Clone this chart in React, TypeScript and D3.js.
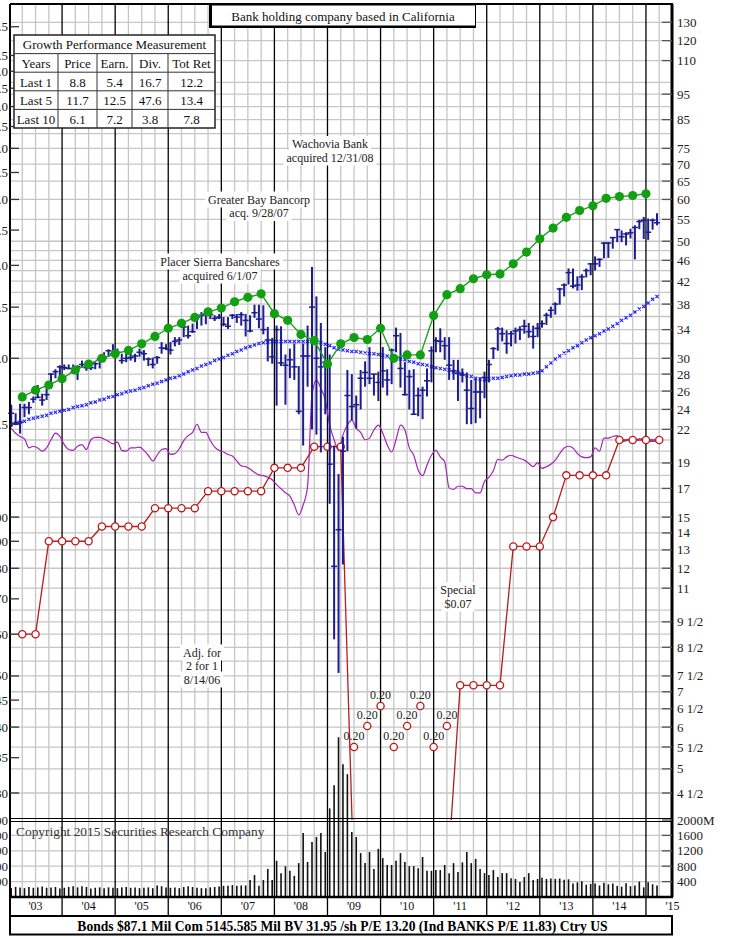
import React from 'react';
import * as d3 from 'd3';

// ---- data ----
const yearLabels = ["'03", "'04", "'05", "'06", "'07", "'08", "'09", "'10", "'11", "'12", "'13", "'14", "'15"];

const priceTicks = [130, 120, 110, 95, 85, 75, 70, 65, 60, 55, 50, 46, 42, 38, 34, 30, 28, 26, 24, 22, 19, 17, 15, 14, 13, 12, 11, 9.5, 8.5, 7.5, 7, 6.5, 6, 5.5, 5, 4.5];
const priceTickLabels = ['130', '120', '110', '95', '85', '75', '70', '65', '60', '55', '50', '46', '42', '38', '34', '30', '28', '26', '24', '22', '19', '17', '15', '14', '13', '12', '11', '9 1/2', '8 1/2', '7 1/2', '7', '6 1/2', '6', '5 1/2', '5', '4 1/2'];
const gridValues = [4.5, 5, 5.5, 6, 6.5, 7, 7.5, 8, 8.5, 9, 9.5, 10, 11, 12, 13, 14, 15, 16, 17, 18, 19, 20, 21, 22, 24, 26, 28, 30, 32, 34, 36, 38, 40, 42, 44, 46, 48, 50, 55, 60, 65, 70, 75, 80, 85, 90, 95, 100, 110, 120, 130];
const epsTicks = [8.5, 7.5, 7.0, 6.5, 6.0, 5.5, 5.0, 4.5, 4.0, 3.5, 3.0, 2.5, 2.0, 1.5, 1.0, 0.9, 0.8, 0.7, 0.6, 0.5, 0.45, 0.4, 0.35, 0.3];
const epsTickLabels = ['8.5', '7.5', '7.0', '6.5', '6.0', '5.5', '5.0', '4.5', '4.0', '3.5', '3.0', '2.5', '2.0', '1.5', '1.00', '0.90', '0.80', '0.70', '0.60', '0.50', '0.45', '0.40', '0.35', '0.30'];
const volTicks = [2000, 1600, 1200, 800, 400];

// monthly bars Jan 2003 .. Mar 2015
const priceHigh = [
  24.5, 23.6, 24.6, 24.6, 24.8, 25.4, 26.7, 25.7, 26.3, 28.1, 28.6, 29.1,
  29.2, 29.2, 29.2, 29.1, 29.7, 29.5, 29.3, 29.5, 30.1, 30.8, 31.2, 31.9,
  31.3, 30.6, 30.7, 31.1, 30.6, 31.3, 31.1, 30.1, 30.1, 30.3, 32.2, 31.9,
  32.2, 32.9, 32.9, 34.6, 34.6, 34.9, 36.4, 36.7, 36.7, 36.7, 36.2, 36.4,
  35.9, 35.9, 36.4, 36.4, 36.7, 36.4, 36.2, 37.9, 37.9, 37.8, 34.4, 32.8,
  34.6, 34.5, 30.5, 31.3, 32.0, 29.0, 32.0, 34.6, 44.7, 39.3, 35.0, 31.5,
  30.5, 20.5, 18.1, 21.3, 28.5, 28.0, 25.5, 28.5, 29.6, 31.5, 28.0, 28.3,
  31.5, 28.6, 31.3, 34.3, 33.5, 29.5, 28.5, 28.6, 26.4, 26.5, 28.7, 31.6,
  32.9, 34.2, 32.9, 32.9, 29.8, 29.8, 28.7, 28.2, 27.3, 27.5, 27.6, 28.3,
  29.8, 31.5, 34.4, 34.3, 33.9, 33.8, 34.3, 34.5, 35.5, 35.0, 34.6, 35.0,
  35.4, 36.6, 37.6, 38.3, 40.8, 41.6, 44.4, 44.4, 42.9, 43.3, 44.4, 45.4,
  46.8, 46.4, 49.8, 49.8, 50.9, 52.7, 52.4, 52.0, 52.8, 53.6, 54.9, 55.6,
  55.2, 55.2, 56.5,
];
const priceLow = [
  22.2, 22.4, 21.6, 23.2, 23.5, 24.7, 25.2, 24.4, 25.0, 26.9, 27.5, 27.7,
  28.5, 28.6, 28.1, 27.3, 28.8, 28.4, 28.5, 28.6, 28.7, 29.5, 30.2, 30.3,
  30.2, 29.3, 29.5, 29.7, 29.5, 30.2, 29.7, 29.0, 28.7, 29.3, 30.6, 31.1,
  30.5, 31.6, 31.8, 32.9, 32.7, 33.5, 34.1, 34.6, 34.8, 35.6, 35.3, 35.6,
  34.5, 34.1, 35.6, 35.0, 34.6, 33.0, 33.6, 35.8, 34.2, 33.3, 29.6, 29.3,
  24.4, 29.0, 24.5, 27.5, 27.3, 23.5, 20.5, 26.5, 22.0, 21.5, 19.9, 23.5,
  15.9, 8.8, 7.6, 12.2, 20.0, 22.9, 22.1, 24.0, 26.5, 26.8, 25.5, 24.9,
  26.4, 25.5, 26.8, 30.8, 26.4, 25.5, 24.0, 23.5, 23.3, 23.0, 25.4, 27.0,
  30.8, 30.8, 29.8, 27.3, 27.3, 24.9, 27.0, 22.5, 22.5, 22.6, 23.1, 25.2,
  27.0, 29.9, 31.0, 32.3, 30.6, 31.6, 32.0, 32.5, 33.4, 32.8, 31.3, 32.9,
  34.3, 34.7, 35.8, 36.3, 37.9, 39.3, 41.4, 40.7, 40.3, 40.4, 42.7, 43.1,
  44.0, 44.7, 46.4, 46.5, 48.4, 49.8, 49.8, 49.1, 50.6, 46.2, 52.7, 50.5,
  50.3, 52.6, 53.6,
];
const priceClose = [
  23.6, 22.6, 22.7, 24.2, 24.2, 25.1, 25.3, 25.0, 25.6, 28.0, 28.3, 28.9,
  28.8, 28.7, 28.2, 28.9, 29.2, 28.8, 28.8, 29.3, 29.9, 30.0, 31.0, 30.6,
  30.8, 29.7, 30.0, 30.1, 30.3, 30.8, 30.6, 29.9, 29.2, 30.1, 31.4, 31.3,
  31.1, 32.3, 32.5, 34.4, 33.1, 33.7, 35.9, 36.2, 36.4, 36.3, 35.7, 35.9,
  34.8, 34.5, 36.2, 35.9, 36.3, 35.4, 33.8, 36.6, 35.6, 34.0, 32.5, 30.2,
  34.0, 29.4, 29.1, 29.8, 28.9, 23.8, 30.3, 30.3, 37.5, 30.0, 28.9, 29.5,
  18.9, 12.1, 14.2, 20.0, 25.5, 24.3, 24.5, 27.5, 28.2, 27.5, 28.0, 27.0,
  28.4, 27.3, 31.1, 33.1, 28.7, 25.6, 27.7, 23.5, 25.5, 26.1, 27.2, 31.0,
  32.4, 32.3, 31.7, 29.1, 28.4, 28.1, 27.9, 26.1, 24.1, 25.9, 25.9, 27.6,
  29.2, 31.3, 34.1, 33.4, 32.0, 33.4, 33.8, 34.0, 34.5, 33.7, 33.0, 34.2,
  34.9, 36.2, 37.0, 38.0, 40.6, 41.3, 43.6, 41.1, 41.3, 42.8, 44.0, 45.3,
  45.3, 46.2, 49.6, 49.6, 50.8, 52.6, 51.0, 51.6, 51.9, 53.1, 54.5, 54.8,
  52.0, 54.8, 54.2,
];
const movingAvg = [
  22.5, 22.6, 22.7, 22.8, 23.0, 23.1, 23.2, 23.3, 23.4, 23.6, 23.7, 23.8,
  23.9, 24.0, 24.2, 24.3, 24.4, 24.5, 24.7, 24.8, 25.0, 25.1, 25.3, 25.4,
  25.6, 25.7, 25.9, 26.0, 26.1, 26.3, 26.4, 26.6, 26.8, 26.9, 27.1, 27.3,
  27.5, 27.6, 27.8, 28.0, 28.3, 28.5, 28.7, 29.0, 29.2, 29.4, 29.7, 29.9,
  30.1, 30.4, 30.6, 30.9, 31.1, 31.4, 31.6, 31.8, 32.0, 32.1, 32.2, 32.3,
  32.3, 32.3, 32.3, 32.3, 32.3, 32.3, 32.3, 32.3, 32.3, 32.2, 32.1, 31.9,
  31.7, 31.4, 31.2, 31.1, 31.0, 30.9, 30.9, 30.8, 30.7, 30.6, 30.6, 30.5,
  30.4, 30.3, 30.2, 30.0, 29.9, 29.8, 29.6, 29.5, 29.3, 29.2, 29.1, 28.9,
  28.8, 28.7, 28.6, 28.5, 28.3, 28.2, 28.0, 27.8, 27.7, 27.5, 27.4, 27.3,
  27.4, 27.5, 27.5, 27.6, 27.7, 27.8, 27.9, 27.9, 28.0, 28.0, 28.1, 28.2,
  28.4, 28.9, 29.4, 29.9, 30.3, 30.7, 31.0, 31.4, 31.7, 32.1, 32.5, 32.8,
  33.1, 33.4, 33.8, 34.1, 34.5, 34.9, 35.4, 35.8, 36.2, 36.7, 37.2, 37.6,
  38.2, 38.8, 39.3,
];
// relative strength (unitless, 0-100 over the price panel)
const relStrength = [
  48.0, 47.4, 47.0, 46.7, 45.6, 45.8, 45.6, 45.2, 45.6, 46.6, 47.4, 47.0,
  46.0, 45.4, 45.3, 45.8, 46.0, 45.4, 46.6, 46.9, 46.9, 46.7, 46.4, 46.1,
  46.3, 45.3, 45.2, 45.6, 45.6, 45.7, 45.3, 44.7, 44.0, 44.7, 45.4, 45.5,
  44.8, 44.9, 45.5, 46.5, 47.1, 47.5, 48.5, 47.5, 47.5, 46.5, 45.7, 45.3,
  45.1, 44.8, 44.6, 44.0, 43.4, 43.3, 43.0, 42.6, 42.3, 42.2, 42.0, 41.7,
  41.1, 40.6, 40.1, 39.7, 38.6, 37.4, 38.6, 40.9, 52.1, 53.9, 52.9, 51.5,
  48.4, 46.6, 45.3, 47.2, 48.4, 49.0, 48.0, 47.5, 46.6, 46.8, 47.8, 48.4,
  47.4, 46.0, 45.1, 46.6, 48.4, 47.8, 45.6, 44.7, 42.9, 42.2, 43.5, 44.7,
  45.3, 44.5, 43.9, 40.7, 40.5, 40.9, 40.9, 40.6, 40.6, 40.1, 40.1, 41.5,
  42.0, 42.8, 44.2, 44.1, 44.5, 44.7, 44.5, 44.3, 44.1, 43.7, 43.3, 43.8,
  43.1, 43.3, 43.6, 44.1, 44.9, 45.6, 45.8, 45.6, 44.9, 44.5, 44.4, 44.5,
  45.6, 45.2, 46.8, 46.8, 47.0, 47.1, 46.4, 46.5, 46.7, 46.6, 46.7, 46.7,
  46.5, 46.4, 46.4,
];
// monthly volume, millions of shares
const volume = [
  230, 260, 250, 230, 260, 240, 250, 270, 240, 250, 260, 220,
  240, 260, 280, 250, 280, 260, 220, 240, 250, 230, 250, 240,
  230, 250, 260, 240, 250, 230, 240, 250, 230, 300, 280, 250,
  240, 250, 230, 260, 280, 260, 240, 230, 230, 250, 260, 270,
  290, 290, 310, 290, 300, 300, 440, 570, 290, 440, 730, 440,
  940, 620, 800, 680, 550, 880, 1660, 910, 1430, 1560, 1660, 1170,
  2300, 2900, 4150, 3450, 3190, 1690, 1560, 1140, 880, 1170, 730, 1250,
  1010, 830, 830, 940, 1140, 910, 800, 800, 750, 1040, 680, 680,
  700, 700, 830, 620, 880, 650, 900, 1170, 880, 990, 730, 620,
  570, 700, 520, 620, 620, 490, 470, 390, 520, 620, 440, 470,
  500, 470, 480, 470, 480, 450, 460, 350, 380, 410, 320, 340,
  350, 300, 370, 330, 350, 290, 270, 360, 280, 300, 400, 250,
  380, 330, 300,
];
// quarterly, per share (plotted on the left scale, 15x price ratio)
const earnings = [
  1.69, 1.74, 1.78, 1.83, 1.90, 1.95, 2.00, 2.04, 2.07, 2.13, 2.20, 2.28,
  2.33, 2.39, 2.45, 2.49, 2.56, 2.61, 2.65, 2.43, 2.36, 2.22, 2.16, 1.95,
  2.13, 2.19, 2.17, 2.28, 2.00, 2.03, 2.03, 2.41, 2.64, 2.71, 2.83, 2.88,
  2.89, 3.02, 3.18, 3.37, 3.53, 3.70, 3.81, 3.89, 4.02, 4.05, 4.07, 4.10,
];
const dividends = [
  0.60, 0.60, 0.90, 0.90, 0.90, 0.90, 0.96, 0.96, 0.96, 0.96, 1.04, 1.04,
  1.04, 1.04, 1.12, 1.12, 1.12, 1.12, 1.12, 1.24, 1.24, 1.24, 1.36, 1.36,
  1.36, 0.20, 0.20, 0.20, 0.20, 0.20, 0.20, 0.20, 0.20, 0.48, 0.48, 0.48,
  0.48, 0.88, 0.88, 0.88, 1.00, 1.20, 1.20, 1.20, 1.20, 1.40, 1.40, 1.40,
  1.40,
];

const tableHead = ['Years', 'Price', 'Earn.', 'Div.', 'Tot Ret'];
const tableRows = [
  ['Last 1', '8.8', '5.4', '16.7', '12.2'],
  ['Last 5', '11.7', '12.5', '47.6', '13.4'],
  ['Last 10', '6.1', '7.2', '3.8', '7.8'],
];

const useD3 = (renderChartFn: Function, dependencyList: Array<unknown>) => {
  const ref = React.useRef(null);
  React.useEffect(() => {
    renderChartFn(d3.select(ref.current));
  }, dependencyList); // eslint-disable-line
  return ref;
};

const FONT = "'Liberation Serif', 'Times New Roman', serif";

function Chart() {
  const ref = useD3((svg: any) => {
    svg.selectAll('*').remove();
    const left = 10;
    const right = 672;
    const top = 4;
    const priceBottom = 820;
    const volBottom = 897;
    const epsRatio = 15;

    const x = d3.scaleLinear().domain([2003, 2015.5]).range([9, 672.5]);
    const y = d3.scaleLog().domain([4, 140.8]).range([priceBottom, top]);
    const yEps = d3.scaleLog().domain([4 / epsRatio, 140.8 / epsRatio]).range([priceBottom, top]);
    const yVol = d3.scaleLinear().domain([0, 2000]).range([volBottom, priceBottom]);
    const yRs = d3.scaleLinear().domain([0, 100]).range([priceBottom, top]);
    const mx = (k: number) => x(2003 + (k + 0.5) / 12);
    const qx = (j: number) => x(2003 + (j + 1) / 4);

    svg.append('rect').attr('width', 731).attr('height', 937).attr('fill', '#fff');

    const defs = svg.append('defs');
    defs.append('clipPath').attr('id', 'pricePanel')
      .append('rect').attr('x', left).attr('y', top).attr('width', right - left).attr('height', priceBottom - top);

    // grid
    const grid = svg.append('g').attr('stroke', '#c6c6c6').attr('stroke-width', 1.3);
    grid.selectAll('.hg').data(gridValues).join('line')
      .attr('x1', left).attr('x2', right)
      .attr('y1', (d: number) => y(d)).attr('y2', (d: number) => y(d));
    grid.selectAll('.vg').data([400, 800, 1200, 1600]).join('line')
      .attr('x1', left).attr('x2', right)
      .attr('y1', (d: number) => yVol(d)).attr('y2', (d: number) => yVol(d));
    const quarters = d3.range(2003.25, 2015.5, 0.25).filter((q: number) => q % 1 !== 0);
    grid.selectAll('.qg').data(quarters).join('line')
      .attr('x1', (d: number) => x(d)).attr('x2', (d: number) => x(d))
      .attr('y1', top).attr('y2', volBottom);
    svg.append('g').selectAll('line').data(d3.range(2004, 2016)).join('line')
      .attr('x1', (d: number) => x(d)).attr('x2', (d: number) => x(d))
      .attr('y1', top).attr('y2', 916)
      .attr('stroke', '#000').attr('stroke-width', 1.3);

    // volume
    svg.append('g').selectAll('line').data(volume).join('line')
      .attr('x1', (_: number, i: number) => mx(i)).attr('x2', (_: number, i: number) => mx(i))
      .attr('y1', volBottom).attr('y2', (d: number) => yVol(d))
      .attr('stroke', '#111').attr('stroke-width', 1.6);

    // relative strength
    svg.append('path').datum(relStrength)
      .attr('d', d3.line().x((_: number, i: number) => mx(i)).y((d: number) => yRs(d)).curve(d3.curveMonotoneX))
      .attr('fill', 'none').attr('stroke', '#a424b4').attr('stroke-width', 1.2);

    // moving average
    svg.append('g').selectAll('path').data(movingAvg).join('path')
      .attr('transform', (d: number, i: number) => `translate(${mx(i)},${y(d)})`)
      .attr('d', 'M-1.6,-1.6L1.6,1.6M-1.6,1.6L1.6,-1.6')
      .attr('stroke', '#1f1fff').attr('stroke-width', 1.1);

    // dividends
    const divMin = yEps.domain()[0];
    const dg = svg.append('g');
    dg.append('path').datum(dividends)
      .attr('clip-path', 'url(#pricePanel)')
      .attr('d', d3.line().x((_: number, j: number) => qx(j)).y((d: number) => yEps(d)))
      .attr('fill', 'none').attr('stroke', '#b81c1c').attr('stroke-width', 1.3);
    const onScale = dividends.map((d, j) => ({ d, j })).filter((p) => p.d >= divMin);
    dg.selectAll('.dc').data(onScale).join('circle')
      .attr('cx', (p: any) => qx(p.j)).attr('cy', (p: any) => yEps(p.d)).attr('r', 3.6)
      .attr('fill', '#fff').attr('stroke', '#c01818').attr('stroke-width', 1.3);
    const offLevels = [747, 726, 706];
    const offScale = dividends.map((d, j) => ({ d, j })).filter((p) => p.d < divMin);
    offScale.forEach((p, i) => {
      const cy = offLevels[i % 3];
      dg.append('circle').attr('cx', qx(p.j)).attr('cy', cy).attr('r', 3.6)
        .attr('fill', '#fff').attr('stroke', '#c01818').attr('stroke-width', 1.3);
      dg.append('text').attr('x', qx(p.j)).attr('y', cy - 11)
        .attr('text-anchor', 'middle').attr('dominant-baseline', 'central')
        .attr('font-family', FONT).attr('font-size', 12).attr('fill', '#222')
        .text(p.d.toFixed(2));
    });

    // price bars
    const bars = svg.append('g').attr('stroke', '#1c1c8e');
    bars.selectAll('.hl').data(priceHigh).join('line')
      .attr('x1', (_: number, i: number) => mx(i)).attr('x2', (_: number, i: number) => mx(i))
      .attr('y1', (d: number) => y(d)).attr('y2', (_: number, i: number) => y(priceLow[i]))
      .attr('stroke-width', 2);
    bars.selectAll('.cl').data(priceClose).join('line')
      .attr('x1', (_: number, i: number) => mx(i) - 3).attr('x2', (_: number, i: number) => mx(i) + 3)
      .attr('y1', (d: number) => y(d)).attr('y2', (d: number) => y(d))
      .attr('stroke-width', 1.5);

    // earnings
    const eg = svg.append('g');
    eg.append('path').datum(earnings)
      .attr('d', d3.line().x((_: number, j: number) => qx(j)).y((d: number) => yEps(d)))
      .attr('fill', 'none').attr('stroke', '#1ea01e').attr('stroke-width', 1.4);
    eg.selectAll('circle').data(earnings).join('circle')
      .attr('cx', (_: number, j: number) => qx(j)).attr('cy', (d: number) => yEps(d)).attr('r', 4.6)
      .attr('fill', '#12a012');

    // notes with white backgrounds
    const note = (lines: string[], cx: number, cy: number, lh: number) => {
      const g = svg.append('g');
      lines.forEach((t, i) => {
        const txt = g.append('text').attr('x', cx).attr('y', cy + i * lh)
          .attr('text-anchor', 'middle').attr('dominant-baseline', 'central')
          .attr('font-family', FONT).attr('font-size', 12).attr('fill', '#222').text(t);
        const bb = txt.node().getBBox();
        g.insert('rect', ':first-child').attr('x', bb.x - 3).attr('y', bb.y - 1)
          .attr('width', bb.width + 6).attr('height', bb.height + 2).attr('fill', '#fff');
      });
    };
    note(['Wachovia Bank', 'acquired 12/31/08'], 330, 144, 13.5);
    note(['Greater Bay Bancorp', 'acq. 9/28/07'], 259, 199.5, 13.5);
    note(['Placer Sierra Bancshares', 'acquired 6/1/07'], 220, 261.5, 14);
    note(['Adj. for', '2 for 1', '8/14/06'], 202, 652.5, 13.5);
    note(['Special', '$0.07'], 458, 590, 13.5);

    svg.append('text').attr('x', 16).attr('y', 831).attr('dominant-baseline', 'central')
      .attr('font-family', FONT).attr('font-size', 13.4).attr('fill', '#333')
      .text('Copyright 2015 Securities Research Company');

    // frame
    const frame = svg.append('g').attr('stroke', '#000').attr('fill', 'none');
    frame.append('line').attr('x1', left).attr('x2', right + 1).attr('y1', top).attr('y2', top).attr('stroke-width', 2);
    frame.append('line').attr('x1', left).attr('x2', left).attr('y1', top).attr('y2', 935).attr('stroke-width', 2);
    frame.append('line').attr('x1', right).attr('x2', right).attr('y1', top).attr('y2', volBottom).attr('stroke-width', 3);
    frame.append('line').attr('x1', left).attr('x2', right).attr('y1', priceBottom - 1.5).attr('y2', priceBottom - 1.5).attr('stroke-width', 1);
    frame.append('line').attr('x1', left).attr('x2', right).attr('y1', priceBottom + 1.5).attr('y2', priceBottom + 1.5).attr('stroke-width', 1);
    frame.append('line').attr('x1', left).attr('x2', right + 1).attr('y1', volBottom).attr('y2', volBottom).attr('stroke-width', 2.5);
    frame.append('line').attr('x1', left).attr('x2', right).attr('y1', 916).attr('y2', 916).attr('stroke-width', 2);
    frame.append('rect').attr('x', left).attr('y', 916).attr('width', right - left).attr('height', 18.5).attr('stroke-width', 2);

    // year labels
    svg.append('g').selectAll('text').data(yearLabels).join('text')
      .attr('x', (_: string, i: number) => x(2003.5 + i)).attr('y', 906)
      .attr('text-anchor', 'middle').attr('dominant-baseline', 'central')
      .attr('font-family', FONT).attr('font-size', 12).attr('fill', '#111')
      .text((d: string) => d);

    svg.append('text').attr('x', 342.5).attr('y', 926)
      .attr('text-anchor', 'middle').attr('dominant-baseline', 'central')
      .attr('font-family', FONT).attr('font-size', 13.6).attr('font-weight', 'bold').attr('fill', '#000')
      .text('Bonds  $87.1 Mil Com 5145.585 Mil BV 31.95 /sh  P/E 13.20 (Ind BANKS P/E 11.83) Ctry US');

    // right axis
    const ra = svg.append('g');
    ra.selectAll('line').data(priceTicks).join('line')
      .attr('x1', right - 10).attr('x2', right)
      .attr('y1', (d: number) => y(d)).attr('y2', (d: number) => y(d))
      .attr('stroke', '#555').attr('stroke-width', 1.3);
    ra.selectAll('text').data(priceTicks).join('text')
      .attr('x', right + 5).attr('y', (d: number) => y(d))
      .attr('dominant-baseline', 'central')
      .attr('font-family', FONT).attr('font-size', 13).attr('fill', '#222')
      .text((_: number, i: number) => priceTickLabels[i]);
    const rv = svg.append('g');
    rv.selectAll('line').data(volTicks).join('line')
      .attr('x1', right - 10).attr('x2', right)
      .attr('y1', (d: number) => yVol(d)).attr('y2', (d: number) => yVol(d))
      .attr('stroke', '#555').attr('stroke-width', 1.3);
    rv.selectAll('text').data(volTicks).join('text')
      .attr('x', right + 5).attr('y', (d: number) => yVol(d))
      .attr('dominant-baseline', 'central')
      .attr('font-family', FONT).attr('font-size', 13).attr('fill', '#222')
      .text((d: number, i: number) => (i === 0 ? `${d}M` : `${d}`));

    // left axis (mostly cut off by the page edge, as in the source)
    const la = svg.append('g');
    la.selectAll('line').data(epsTicks).join('line')
      .attr('x1', left).attr('x2', left + 9)
      .attr('y1', (d: number) => yEps(d)).attr('y2', (d: number) => yEps(d))
      .attr('stroke', '#333').attr('stroke-width', 1.3);
    la.selectAll('text').data(epsTicks).join('text')
      .attr('x', 8).attr('y', (d: number) => yEps(d))
      .attr('text-anchor', 'end').attr('dominant-baseline', 'central')
      .attr('font-family', FONT).attr('font-size', 13).attr('fill', '#222')
      .text((_: number, i: number) => epsTickLabels[i]);
    la.selectAll('.vt').data(volTicks).join('text')
      .attr('x', 8).attr('y', (d: number) => yVol(d))
      .attr('text-anchor', 'end').attr('dominant-baseline', 'central')
      .attr('font-family', FONT).attr('font-size', 13).attr('fill', '#222')
      .text((d: number) => `${d}`);

    // title box
    svg.append('rect').attr('x', 209).attr('y', 5).attr('width', 267).attr('height', 23).attr('fill', '#000');
    svg.append('rect').attr('x', 211.5).attr('y', 5).attr('width', 264).attr('height', 21)
      .attr('fill', '#fff').attr('stroke', '#000').attr('stroke-width', 1);
    svg.append('text').attr('x', 343).attr('y', 16).attr('text-anchor', 'middle').attr('dominant-baseline', 'central')
      .attr('font-family', FONT).attr('font-size', 13).attr('fill', '#111')
      .text('Bank holding company based in California');

    // growth table
    const cols = [14, 58, 97, 132, 168, 215];
    const rowTop = 35;
    const rowH = 18.6;
    const tg = svg.append('g').attr('font-family', FONT).attr('font-size', 13).attr('fill', '#111');
    tg.append('rect').attr('x', cols[0]).attr('y', rowTop).attr('width', cols[5] - cols[0]).attr('height', rowH * 5)
      .attr('fill', '#fff').attr('stroke', '#222').attr('stroke-width', 1.5);
    d3.range(1, 5).forEach((r: number) => {
      tg.append('line').attr('x1', cols[0]).attr('x2', cols[5]).attr('y1', rowTop + r * rowH).attr('y2', rowTop + r * rowH)
        .attr('stroke', '#333').attr('stroke-width', 1);
    });
    cols.slice(1, 5).forEach((c) => {
      tg.append('line').attr('x1', c).attr('x2', c).attr('y1', rowTop + rowH).attr('y2', rowTop + 5 * rowH)
        .attr('stroke', '#333').attr('stroke-width', 1);
    });
    tg.append('text').attr('x', (cols[0] + cols[5]) / 2).attr('y', rowTop + rowH / 2 + 0.5)
      .attr('text-anchor', 'middle').attr('dominant-baseline', 'central').text('Growth Performance Measurement');
    [tableHead, ...tableRows].forEach((row, r) => {
      row.forEach((cell, c) => {
        tg.append('text').attr('x', (cols[c] + cols[c + 1]) / 2).attr('y', rowTop + (r + 1.5) * rowH + 0.5)
          .attr('text-anchor', 'middle').attr('dominant-baseline', 'central').text(cell);
      });
    });
  }, []);

  return (
    <svg
      ref={ref}
      width={731}
      height={937}
      style={{ position: 'absolute', left: 0, top: 0, display: 'block' }}
    />
  );
}

export default function App() {
  return <Chart />;
}
